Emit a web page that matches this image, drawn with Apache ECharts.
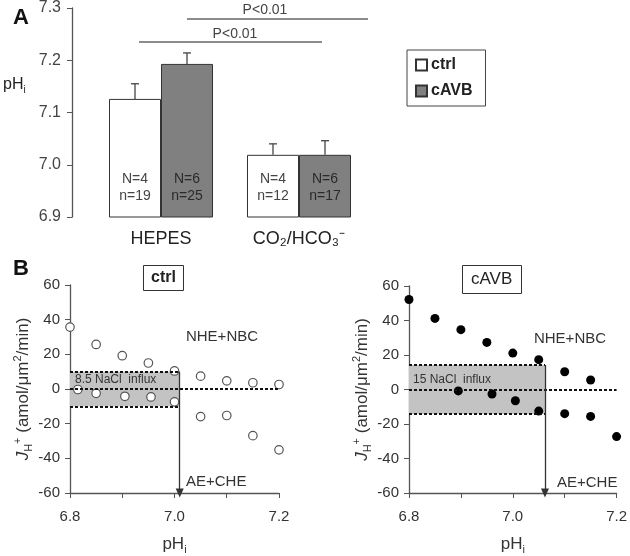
<!DOCTYPE html>
<html><head><meta charset="utf-8">
<script src="https://cdn.jsdelivr.net/npm/echarts@6/dist/echarts.min.js"></script>
<style>html,body{margin:0;padding:0;background:#fff}#c{width:630px;height:556px}</style>
</head><body><div id="c"></div>
<script>
// ---------- Panel A data ----------
const categories = ['HEPES', 'CO\u2082/HCO\u2083\u207B'];
const ctrlMean = [7.126, 7.019];
const ctrlSem = [0.029, 0.021];
const cavbMean = [7.193, 7.019];
const cavbSem = [0.021, 0.027];
const ctrlCounts = ['N=4\nn=19', 'N=4\nn=12'];
const cavbCounts = ['N=6\nn=25', 'N=6\nn=17'];
const pHTicksA = { min: 6.9, max: 7.3, step: 0.1 };

// ---------- Panel B data ----------
const ctrlPH = [6.80, 6.85, 6.90, 6.95, 7.00, 7.05, 7.10, 7.15, 7.20,
                6.815, 6.85, 6.905, 6.955, 7.00, 7.05, 7.10, 7.15, 7.20];
const ctrlJ  = [35.7, 25.7, 19.2, 15.0, 10.4, 7.4, 4.7, 3.6, 2.6,
                -0.3, -2.5, -4.2, -4.6, -7.4, -15.9, -15.3, -26.9, -35.1];
const cavbPH = [6.80, 6.85, 6.90, 6.95, 7.00, 7.05, 7.10, 7.15,
                6.895, 6.96, 7.005, 7.05, 7.10, 7.15, 7.20];
const cavbJ  = [52.2, 41.2, 34.7, 27.3, 21.1, 17.3, 10.3, 5.5,
                -0.8, -2.6, -6.5, -12.5, -14.0, -15.6, -27.3];
const bandHalf = [10, 14.2];        // NaCl influx band half-width (ctrl, cAVB)
const bandLabels = ['8.5 NaCl  influx', '15 NaCl  influx'];
const setPointPH = [7.01, 7.062];   // pHi where band ends
const xRangeB = { min: 6.8, max: 7.2, step: 0.1 };
const yRangeB = { min: -60, max: 60, step: 20 };

const FONT = "'Liberation Sans', Arial, sans-serif";
const TXT = '#333';
const AX = '#555';

const chart = echarts.init(document.getElementById('c'), null, { renderer: 'canvas' });

function errorSeries(name, means, sems, side) {
  return {
    name: name, type: 'custom', xAxisIndex: 0, yAxisIndex: 0, z: 5,
    data: means.map((m, i) => [i, m, m + sems[i]]),
    renderItem: function (params, api) {
      const a = api.coord([api.value(0), api.value(1)]);
      const b = api.coord([api.value(0), api.value(2)]);
      const x = a[0] + side * 26;
      return {
        type: 'group', children: [
          { type: 'line', shape: { x1: x, y1: a[1], x2: x, y2: b[1] }, style: { stroke: '#444', lineWidth: 1.3 } },
          { type: 'line', shape: { x1: x - 4, y1: b[1], x2: x + 4, y2: b[1] }, style: { stroke: '#444', lineWidth: 1.3 } }
        ]
      };
    }
  };
}

function bandMarks(k) {
  const h = bandHalf[k], p = setPointPH[k];
  const dotted = { type: [3, 2], color: '#111', width: 1.8 };
  return {
    markArea: {
      silent: true,
      itemStyle: { color: '#c3c3c3' },
      data: [[{ coord: [xRangeB.min, h] }, { coord: [p, -h] }]]
    },
    markLine: {
      silent: true, animation: false,
      symbol: ['none', 'none'],
      label: { show: false },
      data: [
        [{ coord: [xRangeB.min, h], lineStyle: dotted }, { coord: [p, h] }],
        [{ coord: [xRangeB.min, -h], lineStyle: dotted }, { coord: [p, -h] }],
        [{ coord: [xRangeB.min, 0], lineStyle: dotted }, { coord: [xRangeB.max, 0] }],
        [{ coord: [p, h], symbol: 'none', lineStyle: { type: 'solid', color: '#333', width: 1.3 } },
         { coord: [p, yRangeB.min], symbol: 'triangle', symbolSize: [8, 9], symbolRotate: 180 }]
      ]
    }
  };
}

function yAxisB(gi) {
  return {
    gridIndex: gi, type: 'value', min: yRangeB.min, max: yRangeB.max, interval: yRangeB.step,
    axisLine: { show: true, lineStyle: { color: AX, width: 1.3 } },
    axisTick: { show: true, length: 5, lineStyle: { color: AX } },
    axisLabel: { color: TXT, fontSize: 15, fontFamily: FONT, margin: 10 },
    splitLine: { show: false },
    name: '{j|J}{sub|H}{sup|+}{n| (amol/\u03BCm}{sup|2}{n|/min)}',
    nameLocation: 'middle', nameGap: 34, nameRotate: 90,
    nameTextStyle: {
      fontFamily: FONT, color: TXT,
      rich: {
        j: { fontSize: 17, fontStyle: 'italic', fontFamily: FONT, color: TXT, lineHeight: 22 },
        n: { fontSize: 17, fontFamily: FONT, color: TXT, lineHeight: 22 },
        sub: { fontSize: 11, fontFamily: FONT, color: TXT, verticalAlign: 'bottom', lineHeight: 22 },
        sup: { fontSize: 11, fontFamily: FONT, color: TXT, verticalAlign: 'top', lineHeight: 22 }
      }
    }
  };
}
function xAxisB(gi) {
  return {
    gridIndex: gi, type: 'value', min: xRangeB.min, max: xRangeB.max, interval: xRangeB.step,
    axisLine: { show: true, onZero: false, lineStyle: { color: AX, width: 1.3 } },
    axisTick: { show: true, length: 5, lineStyle: { color: AX } },
    axisLabel: {
      color: TXT, fontSize: 15, fontFamily: FONT, margin: 16,
      formatter: v => (Math.round(v * 10) % 2 === 0) ? v.toFixed(1) : ''
    },
    splitLine: { show: false },
    name: '{n|pH}{sub|i}', nameLocation: 'middle', nameGap: 40,
    nameTextStyle: {
      rich: {
        n: { fontSize: 17, fontFamily: FONT, color: TXT, lineHeight: 22 },
        sub: { fontSize: 11, fontFamily: FONT, color: TXT, verticalAlign: 'bottom', lineHeight: 22 }
      }
    }
  };
}

const option = {
  animation: false,
  backgroundColor: '#fff',
  textStyle: { fontFamily: FONT },
  title: [
    { text: 'A', left: 8, top: 2, textStyle: { fontSize: 22, fontWeight: 'bold', color: '#111', fontFamily: FONT } },
    { text: 'B', left: 8, top: 253, textStyle: { fontSize: 22, fontWeight: 'bold', color: '#111', fontFamily: FONT } },
    { text: 'ctrl', left: 143, top: 265, padding: [5, 8, 5, 8], borderColor: '#333', borderWidth: 1,
      textStyle: { fontSize: 16, fontWeight: 'bold', color: '#222', fontFamily: FONT } },
    { text: 'cAVB', left: 462, top: 265, padding: [6, 9, 6, 9], borderColor: '#333', borderWidth: 1,
      textStyle: { fontSize: 17, fontWeight: 'normal', color: '#222', fontFamily: FONT } }
  ],
  legend: {
    data: ['ctrl', 'cAVB'], orient: 'vertical', left: 407, top: 50,
    padding: [7, 13, 7, 8], itemGap: 10, itemWidth: 11, itemHeight: 11,
    borderColor: '#444', borderWidth: 1, backgroundColor: '#fff',
    icon: 'rect',
    textStyle: { fontSize: 16, fontWeight: 'bold', color: '#222', fontFamily: FONT, padding: [0, 0, 0, -1] }
  },
  grid: [
    { left: 92, top: 7, width: 276, height: 210 },
    { left: 70, top: 285, width: 209, height: 209 },
    { left: 409, top: 286, width: 209, height: 211 }
  ],
  xAxis: [
    {
      gridIndex: 0, type: 'category', data: categories,
      axisLine: { show: false, onZero: false }, axisTick: { show: false },
      axisLabel: { color: '#222', fontSize: 18, fontFamily: FONT, margin: 13 }
    },
    xAxisB(1), xAxisB(2)
  ],
  yAxis: [
    {
      gridIndex: 0, type: 'value', min: pHTicksA.min, max: pHTicksA.max, interval: pHTicksA.step,
      offset: 20,
      axisLine: { show: true, lineStyle: { color: AX, width: 1.3 } },
      axisTick: { show: true, length: 5, lineStyle: { color: AX } },
      axisLabel: { color: '#444', fontSize: 16, fontFamily: FONT, margin: 11, formatter: v => v.toFixed(1) },
      splitLine: { show: false }
    },
    yAxisB(1), yAxisB(2)
  ],
  graphic: [
    { type: 'text', left: 3, top: 77, style: { text: '{n|pH}{sub|i}', rich: {
        n: { fontSize: 16, fontFamily: FONT, fill: '#222', lineHeight: 20 },
        sub: { fontSize: 10, fontFamily: FONT, fill: '#222', verticalAlign: 'bottom', lineHeight: 20 } } } },
    // significance bars
    { type: 'line', shape: { x1: 187, y1: 19, x2: 368, y2: 19 }, style: { stroke: '#666', lineWidth: 1.5 } },
    { type: 'text', x: 265, y: 10, style: { text: 'P<0.01', fontSize: 14, fontFamily: FONT, fill: '#444', align: 'center', verticalAlign: 'middle' } },
    { type: 'line', shape: { x1: 139, y1: 42, x2: 322, y2: 42 }, style: { stroke: '#666', lineWidth: 1.5 } },
    { type: 'text', x: 235, y: 34, style: { text: 'P<0.01', fontSize: 14, fontFamily: FONT, fill: '#444', align: 'center', verticalAlign: 'middle' } },
    // panel B annotations
    { type: 'text', x: 222, y: 337, z: 10, style: { text: 'NHE+NBC', fontSize: 15, fontFamily: FONT, fill: TXT, align: 'center', verticalAlign: 'middle' } },
    { type: 'text', x: 186, y: 482, z: 10, style: { text: 'AE+CHE', fontSize: 15, fontFamily: FONT, fill: TXT, align: 'left', verticalAlign: 'middle' } },
    { type: 'text', x: 75, y: 380, z: 10, style: { text: bandLabels[0], fontSize: 12, fontFamily: FONT, fill: TXT, align: 'left', verticalAlign: 'middle' } },
    { type: 'text', x: 570, y: 339, z: 10, style: { text: 'NHE+NBC', fontSize: 15, fontFamily: FONT, fill: TXT, align: 'center', verticalAlign: 'middle' } },
    { type: 'text', x: 557, y: 483, z: 10, style: { text: 'AE+CHE', fontSize: 15, fontFamily: FONT, fill: TXT, align: 'left', verticalAlign: 'middle' } },
    { type: 'text', x: 413, y: 380, z: 10, style: { text: bandLabels[1], fontSize: 12, fontFamily: FONT, fill: TXT, align: 'left', verticalAlign: 'middle' } }
  ],
  series: [
    {
      name: 'ctrl', type: 'bar', xAxisIndex: 0, yAxisIndex: 0, data: ctrlMean,
      barWidth: 52, barGap: '0%',
      itemStyle: { color: '#ffffff', borderColor: '#333', borderWidth: 1 },
      label: { show: true, position: 'insideBottom', distance: 13, color: '#444', fontSize: 14,
        fontFamily: FONT, lineHeight: 17, formatter: p => ctrlCounts[p.dataIndex] }
    },
    {
      name: 'cAVB', type: 'bar', xAxisIndex: 0, yAxisIndex: 0, data: cavbMean,
      barWidth: 52, barGap: '0%',
      itemStyle: { color: '#808080', borderColor: '#333', borderWidth: 1 },
      label: { show: true, position: 'insideBottom', distance: 13, color: '#2a2a2a', fontSize: 14,
        fontFamily: FONT, lineHeight: 17, formatter: p => cavbCounts[p.dataIndex] }
    },
    errorSeries('ctrl-err', ctrlMean, ctrlSem, -1),
    errorSeries('cavb-err', cavbMean, cavbSem, 1),
    Object.assign({
      name: 'ctrl-B', type: 'scatter', xAxisIndex: 1, yAxisIndex: 1, clip: false, z: 4,
      symbol: 'circle', symbolSize: 8.5,
      itemStyle: { color: '#fff', borderColor: '#555', borderWidth: 1.2, opacity: 1 },
      data: ctrlPH.map((x, i) => [x, ctrlJ[i]])
    }, bandMarks(0)),
    Object.assign({
      name: 'cAVB-B', type: 'scatter', xAxisIndex: 2, yAxisIndex: 2, clip: false, z: 4,
      symbol: 'circle', symbolSize: 9,
      itemStyle: { color: '#000', opacity: 1 },
      data: cavbPH.map((x, i) => [x, cavbJ[i]])
    }, bandMarks(1))
  ]
};
chart.setOption(option);
</script></body></html>
